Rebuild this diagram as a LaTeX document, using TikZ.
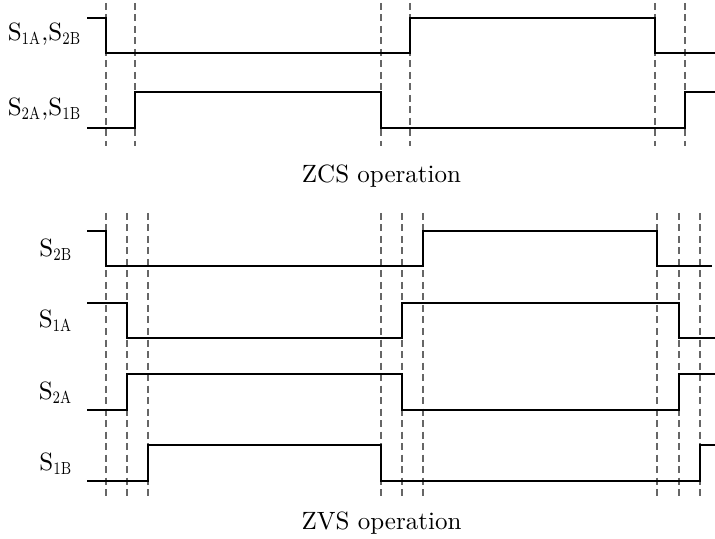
\documentclass[tikz,border=0pt]{standalone}
\usepackage{amsmath}
\usepackage{graphicx}
\usepackage{tikz}
\usetikzlibrary{positioning}

\newcommand{\sw}[1]{S$_{\scalebox{0.75}[1]{$\scriptstyle\mathrm{#1}$}}$}

\begin{document}
\begin{tikzpicture}[
    x=0.4pt, y=-0.4pt,
    wave/.style={line width=0.8pt, line join=miter},
    guide/.style={black!60, line width=0.5pt, dash pattern=on 2.8pt off 1.8pt},
    lbl/.style={anchor=base east, inner sep=0pt},
    caption/.style={anchor=base, inner sep=0pt},
  ]
  \useasboundingbox (0,0) rectangle (715,539);

  % ZCS operation
  \foreach \xg in {106,135,381,410,655,685}
    \draw[guide] (\xg,3) -- (\xg,146);
  \node[lbl] (s1a2b) at (82,41)    {\sw{1A},\sw{2B}};
  \node[lbl] (s2a1b) at (82,115.5) {\sw{2A},\sw{1B}};
  \draw[wave] (87,18) -- (106,18) -- (106,53) -- (410,53) -- (410,18)
    -- (655,18) -- (655,53) -- (715,53);
  \draw[wave] (87,128) -- (135,128) -- (135,92) -- (381,92) -- (381,128)
    -- (685,128) -- (685,92) -- (715,92);
  \node[caption] (zcs) at (381.5,183) {ZCS operation};

  % ZVS operation
  \foreach \xg in {106,127,148,381,402,423,657,679,700}
    \draw[guide] (\xg,213) -- (\xg,498);
  \node[lbl] (s2b) at (73,256.5) {\sw{2B}};
  \node[lbl] (s1a) at (73,328)   {\sw{1A}};
  \node[lbl] (s2a) at (73,399.5) {\sw{2A}};
  \node[lbl] (s1b) at (73,471)   {\sw{1B}};
  \draw[wave] (87,231) -- (106,231) -- (106,266) -- (423,266) -- (423,231)
    -- (657,231) -- (657,266) -- (712,266);
  \draw[wave] (87,303) -- (127,303) -- (127,338) -- (402,338) -- (402,303)
    -- (679,303) -- (679,338) -- (715,338);
  \draw[wave] (87,410) -- (127,410) -- (127,374) -- (402,374) -- (402,410)
    -- (679,410) -- (679,374) -- (715,374);
  \draw[wave] (87,481) -- (148,481) -- (148,445) -- (381,445) -- (381,481)
    -- (700,481) -- (700,445) -- (715,445);
  \node[caption] (zvs) at (381.5,530) {ZVS operation};
\end{tikzpicture}
\end{document}
